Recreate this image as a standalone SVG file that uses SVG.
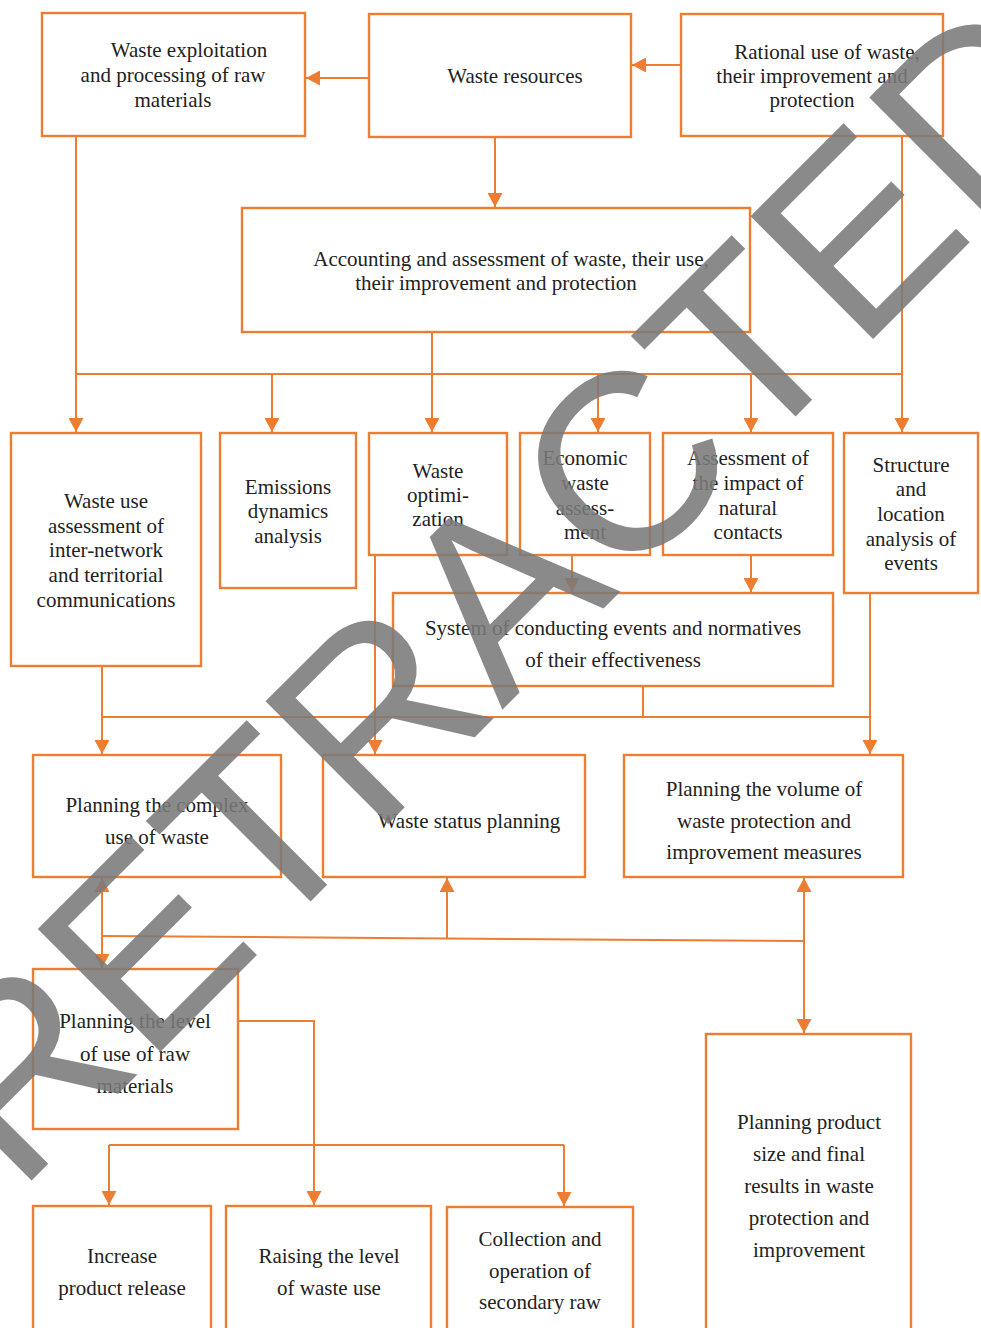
<svg xmlns="http://www.w3.org/2000/svg" width="981" height="1328" viewBox="0 0 981 1328">
<defs>
<style>
.box{fill:#fff;stroke:#ED7D31;stroke-width:2.4}
.ln{fill:none;stroke:#ED7D31;stroke-width:2}
.ar{marker-end:url(#ah)}
text{font-family:"Liberation Serif","Times New Roman",serif;font-size:21px;fill:#222;text-anchor:middle}
.wm{font-family:"Liberation Sans",Arial,sans-serif;font-size:252px;fill:#7a7a7a;fill-opacity:0.88;text-anchor:start}
</style>
<marker id="ah" markerUnits="userSpaceOnUse" markerWidth="15" markerHeight="15" refX="14" refY="7.5" orient="auto">
<path d="M0,0 L14,7.5 L0,15 z" fill="#ED7D31"/>
</marker>
</defs>
<rect width="981" height="1328" fill="#fff"/>

<g id="connectors">
<path class="ln ar" d="M680,65 H632"/>
<path class="ln ar" d="M369,78 H306"/>
<path class="ln ar" d="M495,137 V207"/>
<path class="ln ar" d="M76,136 V432"/>
<path class="ln ar" d="M902,137 V432"/>
<path class="ln ar" d="M432,332 V432"/>
<path class="ln" d="M76,374 H902"/>
<path class="ln ar" d="M272,374 V432"/>
<path class="ln ar" d="M598,374 V432"/>
<path class="ln ar" d="M751,374 V432"/>
<path class="ln ar" d="M572,555 V592"/>
<path class="ln ar" d="M751,555 V592"/>
<path class="ln ar" d="M375,555 V754"/>
<path class="ln" d="M643,686 V717"/>
<path class="ln" d="M102,717 H870"/>
<path class="ln ar" d="M102,666 V754"/>
<path class="ln ar" d="M870,593 V754"/>
<path class="ln" d="M102,936 L804,941"/>
<path class="ln ar" d="M102,936 V878"/>
<path class="ln ar" d="M102,936 V968"/>
<path class="ln ar" d="M447,939 V878"/>
<path class="ln ar" d="M804,941 V878"/>
<path class="ln ar" d="M804,941 V1033"/>
<path class="ln ar" d="M238,1021 H314 V1205"/>
<path class="ln" d="M109,1145 H564"/>
<path class="ln ar" d="M109,1145 V1205"/>
<path class="ln ar" d="M564,1145 V1206"/>
</g>

<g id="n1"><rect class="box" x="42" y="13" width="263" height="123"/>
<text x="189" y="57">Waste exploitation</text><text x="173" y="82">and processing of raw</text><text x="173" y="107">materials</text></g>
<g id="n2"><rect class="box" x="369" y="14" width="262" height="123"/>
<text x="515" y="83">Waste resources</text></g>
<g id="n3"><rect class="box" x="681" y="14" width="262" height="122"/>
<text x="827" y="59">Rational use of waste,</text><text x="812" y="83">their improvement and</text><text x="812" y="107">protection</text></g>
<g id="n4"><rect class="box" x="242" y="208" width="508" height="124"/>
<text x="511" y="266">Accounting and assessment of waste, their use,</text><text x="496" y="290">their improvement and protection</text></g>

<g id="n5"><rect class="box" x="11" y="433" width="190" height="233"/>
<text x="106" y="508">Waste use</text><text x="106" y="533">assessment of</text><text x="106" y="557">inter-network</text><text x="106" y="582">and territorial</text><text x="106" y="607">communications</text></g>
<g id="n6"><rect class="box" x="220" y="433" width="136" height="155"/>
<text x="288" y="494">Emissions</text><text x="288" y="518">dynamics</text><text x="288" y="543">analysis</text></g>
<g id="n7"><rect class="box" x="369" y="433" width="138" height="122"/>
<text x="438" y="478">Waste</text><text x="438" y="502">optimi-</text><text x="438" y="526">zation</text></g>
<g id="n8"><rect class="box" x="520" y="433" width="130" height="122"/>
<text x="585" y="465">Economic</text><text x="585" y="490">waste</text><text x="585" y="515">assess-</text><text x="585" y="539">ment</text></g>
<g id="n9"><rect class="box" x="663" y="433" width="170" height="122"/>
<text x="748" y="465">Assessment of</text><text x="748" y="490">the impact of</text><text x="748" y="515">natural</text><text x="748" y="539">contacts</text></g>
<g id="n10"><rect class="box" x="844" y="433" width="134" height="160"/>
<text x="911" y="472">Structure</text><text x="911" y="496">and</text><text x="911" y="521">location</text><text x="911" y="546">analysis of</text><text x="911" y="570">events</text></g>
<g id="n11"><rect class="box" x="393" y="593" width="440" height="93"/>
<text x="613" y="635">System of conducting events and normatives</text><text x="613" y="667">of their effectiveness</text></g>

<g id="n12"><rect class="box" x="33" y="755" width="248" height="122"/>
<text x="157" y="812">Planning the complex</text><text x="157" y="844">use of waste</text></g>
<g id="n13"><rect class="box" x="323" y="755" width="262" height="122"/>
<text x="469" y="828">Waste status planning</text></g>
<g id="n14"><rect class="box" x="624" y="755" width="279" height="122"/>
<text x="764" y="796">Planning the volume of</text><text x="764" y="828">waste protection and</text><text x="764" y="859">improvement measures</text></g>

<g id="n15"><rect class="box" x="33" y="969" width="205" height="160"/>
<text x="135" y="1028">Planning the level</text><text x="135" y="1061">of use of raw</text><text x="135" y="1093">materials</text></g>
<g id="n16"><rect class="box" x="706" y="1034" width="205" height="310"/>
<text x="809" y="1129">Planning product</text><text x="809" y="1161">size and final</text><text x="809" y="1193">results in waste</text><text x="809" y="1225">protection and</text><text x="809" y="1257">improvement</text></g>
<g id="n17"><rect class="box" x="33" y="1206" width="178" height="140"/>
<text x="122" y="1263">Increase</text><text x="122" y="1295">product release</text></g>
<g id="n18"><rect class="box" x="226" y="1206" width="205" height="140"/>
<text x="329" y="1263">Raising the level</text><text x="329" y="1295">of waste use</text></g>
<g id="n19"><rect class="box" x="447" y="1207" width="186" height="140"/>
<text x="540" y="1246">Collection and</text><text x="540" y="1278">operation of</text><text x="540" y="1309">secondary raw</text></g>

<g id="watermark">
<text class="wm" transform="translate(17,1195) rotate(-45)">RETRACTED</text>
</g>
</svg>
